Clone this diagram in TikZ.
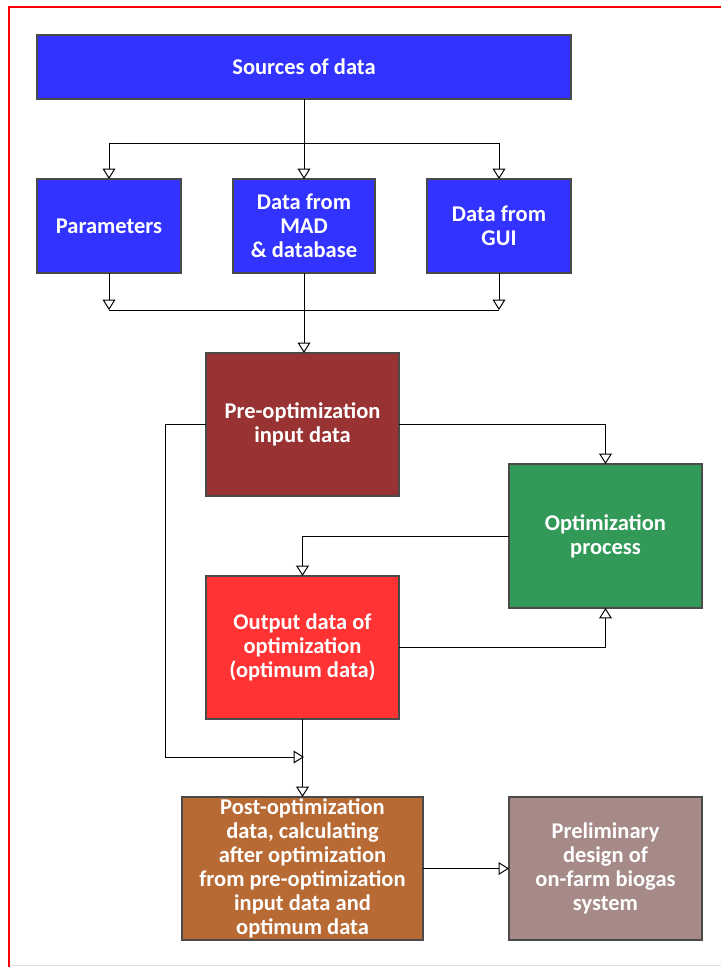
\documentclass[tikz,border=0pt]{standalone}
\usepackage{fontspec}
\setmainfont{Carlito}
\usetikzlibrary{arrows.meta,positioning,calc}
\definecolor{srcblue}{HTML}{3333FF}
\definecolor{predark}{HTML}{993333}
\definecolor{optgreen}{HTML}{339959}
\definecolor{outred}{HTML}{FF3333}
\definecolor{postbrown}{HTML}{B86A34}
\definecolor{prelimgray}{HTML}{A58A88}
\definecolor{boxedge}{HTML}{4A4A4A}

\begin{document}
\begin{tikzpicture}[x=0.025cm,y=-0.025cm,
    b/.style={draw=boxedge,line width=0.8pt,text=white,align=center,inner sep=0pt,
    outer sep=0pt,font=\fontsize{16}{17}\selectfont\bfseries},
    a/.style={-{Triangle[open,length=2.6mm,width=3.2mm]},line width=0.7pt},
    l/.style={line width=0.7pt}]
    \useasboundingbox (0,0) rectangle (721,967);
    % frame
    \draw[red,line width=1.6pt] (9,967)--(9,7)--(721,7);
    \draw[gray!25,line width=0.8pt] (10,965.5)--(721,965.5);
    % boxes
    \node[b,fill=srcblue,minimum width=13.35cm,minimum height=1.6cm] (src) at (304,67) {Sources of data};
    \draw[boxedge,line width=1.6pt] (src.north west) -- (src.south west) (src.north east) -- (src.south east);
    \node[b,fill=srcblue,minimum width=3.6cm,minimum height=2.35cm] (par) at (109,226) {Parameters};
    \node[b,fill=srcblue,minimum width=3.55cm,minimum height=2.35cm] (mad) at (304,226) {Data from\\MAD\\\& database};
    \node[b,fill=srcblue,minimum width=3.6cm,minimum height=2.35cm] (gui) at (499,226) {Data from\\GUI};
    \node[b,fill=predark,minimum width=4.825cm,minimum height=3.575cm] (pre) at (302.5,424.5) {Pre-optimization\\input data};
    \node[b,fill=optgreen,minimum width=4.825cm,minimum height=3.6cm] (opt) at (605.5,536) {Optimization\\process};
    \node[b,fill=outred,minimum width=4.825cm,minimum height=3.575cm] (out) at (302.5,647.5) {Output data of\\optimization\\(optimum data)};
    \node[b,fill=postbrown,minimum width=6.025cm,minimum height=3.575cm] (post) at (302.5,868.5) {Post-optimization\\data, calculating\\after optimization\\from pre-optimization\\input data and\\optimum data};
    \node[b,fill=prelimgray,minimum width=4.825cm,minimum height=3.575cm] (prelim) at (605.5,868.5) {Preliminary\\design of\\on-farm biogas\\system};
    % split and join points
    \coordinate (split) at (304,143);
    \coordinate (jl) at (109,310);
    \coordinate (jr) at (499,310);
    \coordinate (lc) at (165,757);
    \coordinate (mid) at (304,757);
    % connectors
    \draw[l] (src.south) -- (split);
    \draw[a] (split) -| (par.north);
    \draw[a] (split) -- (mad.north);
    \draw[a] (split) -| (gui.north);
    \draw[a] (par.south) -- (jl); \draw[a] (gui.south) -- (jr);
    \draw[l] (jl) -- (jr);
    \draw[a] (mad.south) -- (mad.south |- pre.north);
    \draw[a] (pre.east) -| (opt.north);
    \draw[a] (opt.west) -| (out.north);
    \draw[a] (out.east) -| (opt.south);
    \draw[a] (pre.west) -| (lc) -- (mid);
    \draw[a] (out.south) -- (post.north);
    \draw[a] (post.east) -- (prelim.west);
\end{tikzpicture}
\end{document}
